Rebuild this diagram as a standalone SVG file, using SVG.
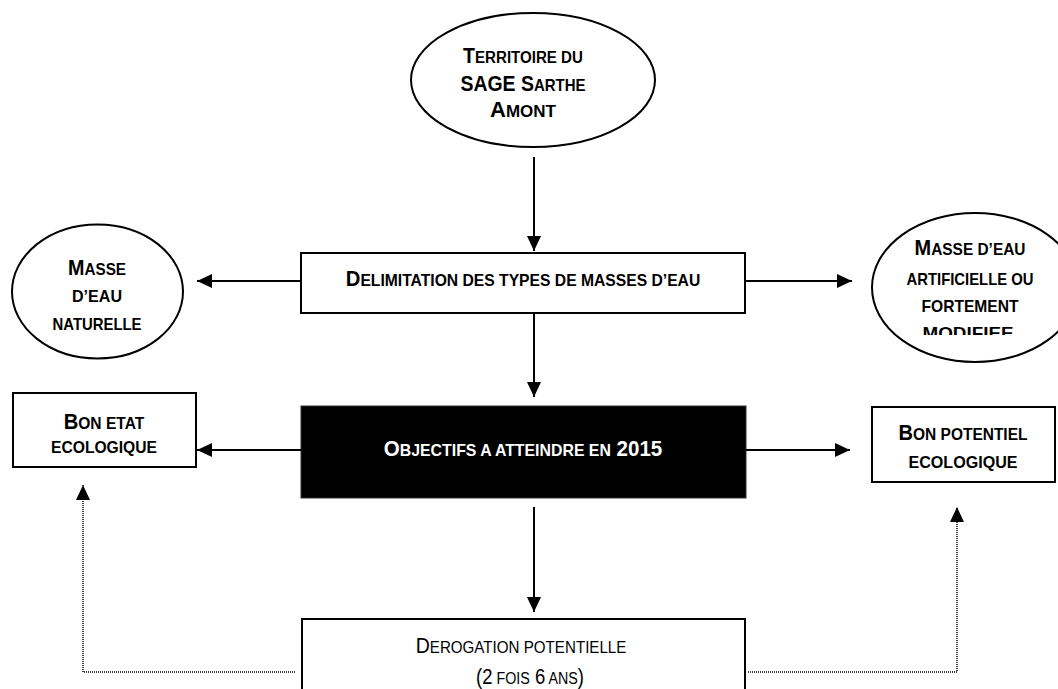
<svg xmlns="http://www.w3.org/2000/svg" width="1058" height="689" viewBox="0 0 1058 689">
<style>
text{font-family:"Liberation Sans",Arial,sans-serif;font-weight:bold;fill:#000;text-anchor:middle}
.b{font-size:22px}
.s{font-size:17px}
.w{fill:#fff}
.n{font-weight:normal}
.shape{fill:#fff;stroke:#000;stroke-width:2}
.conn{fill:none;stroke:#000;stroke-width:2}
.dot{fill:none;stroke:#000;stroke-width:1.5;stroke-dasharray:1 1}
</style>
<defs>
<marker id="ah" markerUnits="userSpaceOnUse" markerWidth="16" markerHeight="14" refX="15" refY="7" orient="auto">
<path d="M0,0 L15,7 L0,14 z" fill="#000"/>
</marker>
<clipPath id="clipR"><rect x="860" y="200" width="198" height="135"/></clipPath>
</defs>

<g id="territoire">
<ellipse class="shape" cx="533" cy="80" rx="122" ry="67"/>
<text transform="translate(523,63) scale(0.888,1)" x="0" y="0"><tspan class="b">T</tspan><tspan class="s">ERRITOIRE DU</tspan></text>
<text transform="translate(523,91) scale(0.883,1)" x="0" y="0"><tspan class="b">SAGE S</tspan><tspan class="s">ARTHE</tspan></text>
<text transform="translate(523,117)" x="0" y="0"><tspan class="b">A</tspan><tspan class="s">MONT</tspan></text>
</g>

<g id="naturelle">
<ellipse class="shape" cx="97.5" cy="291.5" rx="85.5" ry="67"/>
<text transform="translate(97,275) scale(0.898,1)" x="0" y="0"><tspan class="b">M</tspan><tspan class="s">ASSE</tspan></text>
<text x="97" y="302" textLength="50" lengthAdjust="spacingAndGlyphs" class="s">D’EAU</text>
<text x="97" y="330" textLength="89" lengthAdjust="spacingAndGlyphs" class="s">NATURELLE</text>
</g>

<g id="delimitation">
<rect class="shape" x="301" y="253" width="444" height="60"/>
<text transform="translate(523,286) scale(0.922,1)" x="0" y="0"><tspan class="b">D</tspan><tspan class="s">ELIMITATION DES TYPES DE MASSES D’EAU</tspan></text>
</g>

<g id="artificielle">
<ellipse class="shape" cx="975" cy="287.5" rx="103" ry="74.5"/>
<g clip-path="url(#clipR)">
<text transform="translate(970,255) scale(0.908,1)" x="0" y="0"><tspan class="b">M</tspan><tspan class="s">ASSE D’EAU</tspan></text>
<text x="970" y="285" textLength="127" lengthAdjust="spacingAndGlyphs" class="s">ARTIFICIELLE OU</text>
<text x="970" y="312" textLength="97" lengthAdjust="spacingAndGlyphs" class="s">FORTEMENT</text>
<text x="968" y="339" textLength="91" lengthAdjust="spacingAndGlyphs" class="s">MODIFIEE</text>
</g>
</g>

<g id="bonetat">
<rect class="shape" x="13" y="393" width="183" height="74"/>
<text transform="translate(104,429) scale(0.917,1)" x="0" y="0"><tspan class="b">B</tspan><tspan class="s">ON ETAT</tspan></text>
<text x="104" y="453" textLength="106" lengthAdjust="spacingAndGlyphs" class="s">ECOLOGIQUE</text>
</g>

<g id="objectifs">
<rect x="301" y="406" width="445" height="92" fill="#000" stroke="#333" stroke-width="1"/>
<text transform="translate(523,456) scale(0.933,1)" x="0" y="0" class="w"><tspan class="b">O</tspan><tspan class="s">BJECTIFS A ATTEINDRE EN</tspan><tspan class="b"> 2015</tspan></text>
</g>

<g id="bonpotentiel">
<rect class="shape" x="872" y="407" width="183" height="75"/>
<text transform="translate(963,440) scale(0.912,1)" x="0" y="0"><tspan class="b">B</tspan><tspan class="s">ON POTENTIEL</tspan></text>
<text x="963" y="468" textLength="109" lengthAdjust="spacingAndGlyphs" class="s">ECOLOGIQUE</text>
</g>

<g id="derogation">
<rect class="shape" x="302" y="619" width="443" height="90"/>
<text transform="translate(521,653) scale(0.891,1)" x="0" y="0" class="n"><tspan class="b">D</tspan><tspan class="s">EROGATION POTENTIELLE</tspan></text>
<text transform="translate(530,684) scale(0.84,1)" x="0" y="0" class="n"><tspan class="b">(2</tspan><tspan class="s"> FOIS</tspan><tspan class="b"> 6</tspan><tspan class="s"> ANS</tspan><tspan class="b">)</tspan></text>
</g>

<g id="connectors">
<line class="conn" x1="534" y1="157" x2="534" y2="251" marker-end="url(#ah)"/>
<line class="conn" x1="301" y1="281" x2="197" y2="281" marker-end="url(#ah)"/>
<line class="conn" x1="745" y1="281" x2="852" y2="281" marker-end="url(#ah)"/>
<line class="conn" x1="534" y1="313" x2="534" y2="397" marker-end="url(#ah)"/>
<line class="conn" x1="301" y1="450" x2="197" y2="450" marker-end="url(#ah)"/>
<line class="conn" x1="746" y1="450" x2="850" y2="450" marker-end="url(#ah)"/>
<line class="conn" x1="534" y1="507" x2="534" y2="612" marker-end="url(#ah)"/>
<polyline class="dot" points="295,672 83,672 83,485" marker-end="url(#ah)"/>
<polyline class="dot" points="748,672 957,672 957,507" marker-end="url(#ah)"/>
</g>
</svg>
